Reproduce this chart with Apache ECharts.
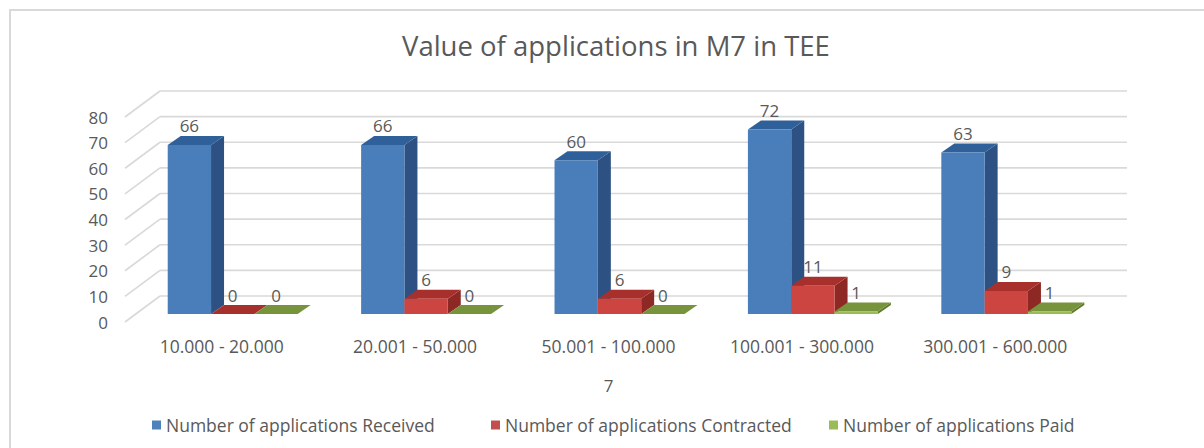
<!DOCTYPE html>
<html>
<head>
<meta charset="utf-8">
<script src="https://cdn.jsdelivr.net/npm/echarts@6/dist/echarts.min.js"></script>
<style>
html,body{margin:0;padding:0;background:#fff;}
#chart{width:1204px;height:448px;}
</style>
</head>
<body>
<div id="chart"></div>
<script>
// ---- data ----
const categories = ['10.000 - 20.000', '20.001 - 50.000', '50.001 - 100.000', '100.001 - 300.000', '300.001 - 600.000'];
const seriesNames = ['Number of applications Received', 'Number of applications Contracted', 'Number of applications Paid'];
const received = [66, 66, 60, 72, 63];
const contracted = [0, 6, 6, 11, 9];
const paid = [0, 0, 0, 1, 1];
const yTicks = [0, 10, 20, 30, 40, 50, 60, 70, 80];
const titleText = 'Value of applications in M7 in TEE';
const xAxisTitle = '7';

// ---- style ----
const FONT = 'Open Sans';
const TEXT = '#595959';
const GRID = '#d9d9d9';
const WALL = { dx: 35, dy: -26 };          // full depth of the 3D box
const BAR_OFF = { dx: 11, dy: -8 };        // front face of bars inside depth
const BAR_DEPTH = { dx: 13, dy: -9 };      // bar depth
const BAR_FRAC = 0.224;                    // bar width as fraction of band
const faces = [
  { front: '#4a7ebb', top: '#30609a', side: '#2c5182', legend: '#4f81bd' },
  { front: '#cc4540', top: '#a8302c', side: '#8d2825', legend: '#c0504d' },
  { front: '#9bbb59', top: '#77933c', side: '#5f7a2c', legend: '#9bbb59' }
];
const seriesData = [received, contracted, paid];

const chart = echarts.init(document.getElementById('chart'), null, { renderer: 'svg' });

function wallRender(params, api) {
  const v = api.value(0);
  const cs = params.coordSys;
  const p = api.coord([0, v]);
  const y = p[1];
  const x0 = cs.x, x1 = cs.x + cs.width;
  const style = { stroke: GRID, lineWidth: 1.6 };
  return {
    type: 'group',
    children: [
      { type: 'line', shape: { x1: x0 + WALL.dx, y1: y + WALL.dy, x2: x1 + WALL.dx, y2: y + WALL.dy }, style },
      { type: 'line', shape: { x1: x0, y1: y, x2: x0 + WALL.dx, y2: y + WALL.dy }, style }
    ]
  };
}

function makeBarRender(si) {
  return function (params, api) {
    const ci = api.value(0);
    const val = api.value(1);
    const base = api.coord([ci, 0]);
    const top = api.coord([ci, val]);
    const band = api.size([1, 0])[0];
    const w = band * BAR_FRAC;
    const xL = base[0] - 1.5 * w + si * w + BAR_OFF.dx;
    const xR = xL + w;
    const yB = base[1] + BAR_OFF.dy;
    const yT = top[1] + BAR_OFF.dy;
    const dx = BAR_DEPTH.dx, dy = BAR_DEPTH.dy;
    const c = faces[si];
    const children = [];
    if (yB - yT > 0.5) {
      children.push({ type: 'polygon', shape: { points: [[xR, yB], [xR + dx, yB + dy], [xR + dx, yT + dy], [xR, yT]] }, style: { fill: c.side } });
    }
    children.push({ type: 'polygon', shape: { points: [[xL, yT], [xR, yT], [xR + dx, yT + dy], [xL + dx, yT + dy]] }, style: { fill: c.top } });
    if (yB - yT > 0.5) {
      children.push({ type: 'rect', shape: { x: xL, y: yT, width: w, height: yB - yT }, style: { fill: c.front } });
    }
    children.push({
      type: 'text',
      z2: 100,
      style: {
        text: String(val), x: xL + w / 2, y: yT - 19,
        align: 'center', verticalAlign: 'middle',
        fill: TEXT, font: '17px "' + FONT + '"'
      }
    });
    return { type: 'group', children };
  };
}

const barSeries = seriesNames.map((name, si) => ({
  name,
  type: 'custom',
  coordinateSystem: 'cartesian2d',
  renderItem: makeBarRender(si),
  encode: { x: 0, y: 1 },
  data: seriesData[si].map((v, i) => [i, v]),
  itemStyle: { color: faces[si].legend },
  z: 3,
  silent: true
}));

const legendLefts = [147, 486, 824];

const option = {
  backgroundColor: '#fff',
  animation: false,
  title: {
    text: titleText,
    left: 397,
    top: 26,
    textStyle: { fontFamily: FONT, fontSize: 27.5, fontWeight: 'normal', color: TEXT }
  },
  graphic: [{
    type: 'rect',
    shape: { x: 10, y: 10, width: 1400, height: 600 },
    style: { fill: 'none', stroke: GRID, lineWidth: 2 },
    silent: true
  }],
  legend: seriesNames.map((name, i) => ({
    data: [name],
    left: legendLefts[i],
    top: 411,
    icon: 'rect',
    itemWidth: 9,
    itemHeight: 9,
    itemGap: 6,
    textStyle: { fontFamily: FONT, fontSize: 17.5, color: TEXT },
    selectedMode: false
  })),
  grid: { left: 125, right: 112, top: 117, bottom: 126, containLabel: false },
  xAxis: {
    type: 'category',
    data: categories,
    name: xAxisTitle,
    nameLocation: 'middle',
    nameGap: 55,
    nameTextStyle: { fontFamily: FONT, fontSize: 17, color: TEXT },
    axisLine: { show: false },
    axisTick: { show: false },
    axisLabel: { fontFamily: FONT, fontSize: 17.5, color: TEXT, margin: 15, interval: 0 },
    splitLine: { show: false }
  },
  yAxis: {
    type: 'value',
    min: 0,
    max: 80,
    interval: 10,
    axisLine: { show: false },
    axisTick: { show: false },
    splitLine: { show: false },
    axisLabel: { fontFamily: FONT, fontSize: 17, color: TEXT, margin: 17 }
  },
  series: [{
    name: 'wall',
    type: 'custom',
    coordinateSystem: 'cartesian2d',
    renderItem: wallRender,
    encode: { y: 0 },
    data: yTicks.map(v => [v]),
    z: 1,
    silent: true
  }].concat(barSeries)
};

chart.setOption(option);
</script>
</body>
</html>
